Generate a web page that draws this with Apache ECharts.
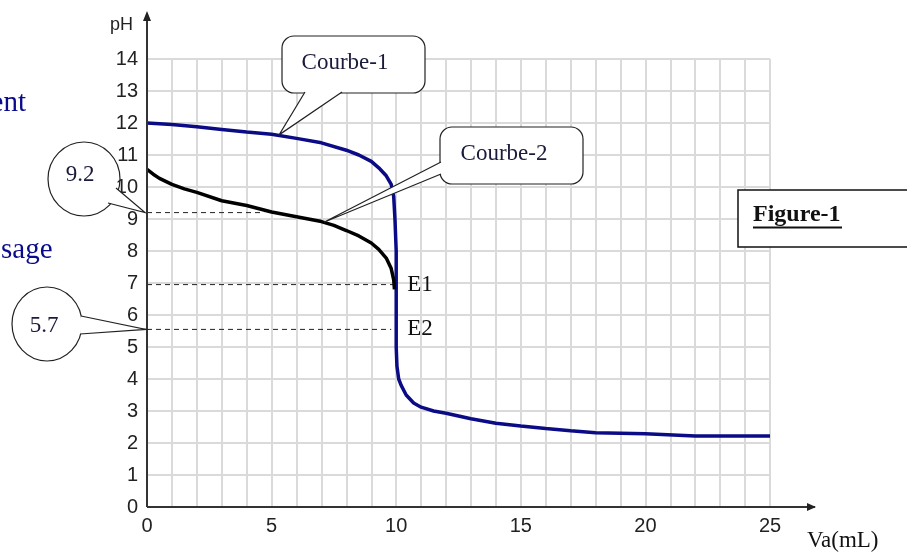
<!DOCTYPE html>
<html>
<head>
<meta charset="utf-8">
<script src="https://cdn.jsdelivr.net/npm/echarts@6/dist/echarts.min.js"></script>
<style>
  html, body { margin: 0; padding: 0; background: #fff; }
  #main { width: 907px; height: 553px; }
</style>
</head>
<body>
<div id="main"></div>
<script>
// Courbe-1 (blue) : pH vs Va
var vol1 = [0, 1, 2, 3, 4, 5, 6, 7, 8, 8.5, 9, 9.3, 9.6, 9.8, 9.9, 9.95, 10, 10, 10.03, 10.1, 10.2, 10.4, 10.7, 11, 11.5, 12, 13, 14, 15, 16, 17, 18, 20, 22, 25];
var ph1 = [12, 11.95, 11.88, 11.8, 11.72, 11.65, 11.52, 11.38, 11.15, 11.0, 10.8, 10.6, 10.35, 10.08, 9.7, 9.0, 8.0, 5.0, 4.4, 4.0, 3.8, 3.5, 3.25, 3.12, 3.0, 2.93, 2.76, 2.62, 2.53, 2.45, 2.38, 2.32, 2.29, 2.22, 2.22];
// Courbe-2 (black)
var vol2 = [0, 0.25, 0.5, 1, 1.5, 2, 3, 4, 5, 6, 7, 7.5, 8, 8.5, 9, 9.3, 9.6, 9.8, 9.9, 9.93];
var ph2 = [10.55, 10.4, 10.27, 10.08, 9.94, 9.83, 9.57, 9.42, 9.22, 9.07, 8.92, 8.8, 8.64, 8.47, 8.25, 8.05, 7.78, 7.45, 7.1, 6.8];

// dashed reading lines
var dashLevels = [9.2, 6.95, 5.55];
var dashEnds = [4.7, 9.9, 9.8];

// equivalence labels
var eqNames = ['E1', 'E2'];
var eqLevels = [6.95, 5.55];

var xTicks = [0, 5, 10, 15, 20, 25];
var calloutTexts = ['Courbe-1', 'Courbe-2', '9.2', '5.7'];
var calloutTips = [[5.3, 11.63], [7.1, 8.9], [0, 9.2], [0, 5.55]];

function pairs(xs, ys) {
  return xs.map(function (x, i) { return [x, ys[i]]; });
}

var chart = echarts.init(document.getElementById('main'));

var series = [
  {
    type: 'line', data: pairs(vol1, ph1), symbol: 'none', z: 3,
    lineStyle: { color: '#0b0b86', width: 3.5 }
  },
  {
    type: 'line', data: pairs(vol2, ph2), symbol: 'none', z: 4,
    lineStyle: { color: '#000', width: 3.5 }
  }
];
dashLevels.forEach(function (lvl, i) {
  series.push({
    type: 'line', data: [[0, lvl], [dashEnds[i], lvl]], symbol: 'none', z: 2,
    lineStyle: { color: '#222', width: 1, type: [5, 4] }
  });
});

chart.setOption({
  animation: false,
  backgroundColor: '#fff',
  grid: { left: 147, right: 137, top: 59, bottom: 46 },
  xAxis: {
    type: 'value', min: 0, max: 25, interval: 1,
    axisLine: { show: false },
    axisTick: { show: false },
    splitLine: { lineStyle: { color: '#dadada', width: 2 } },
    axisLabel: {
      margin: 9, color: '#222', fontSize: 20, fontFamily: 'Liberation Sans',
      formatter: function (v) { return xTicks.indexOf(v) >= 0 ? String(v) : ''; }
    }
  },
  yAxis: {
    type: 'value', min: 0, max: 14, interval: 1,
    axisLine: { show: false },
    axisTick: { show: false },
    splitLine: { lineStyle: { color: '#dadada', width: 2 } },
    axisLabel: { margin: 9, color: '#222', fontSize: 20, fontFamily: 'Liberation Sans' }
  },
  series: series
});

function px(p) { return chart.convertToPixel({ gridIndex: 0 }, p); }

function txt(text, x, y, opts) {
  opts = opts || {};
  var align = opts.align || 'center';
  return {
    type: 'text', z: 120,
    style: {
      text: text, x: x, y: y,
      fill: opts.color || '#1a1a3a',
      font: opts.font || '23px "Liberation Serif"',
      align: align, verticalAlign: 'middle',
      textAlign: align, textVerticalAlign: 'middle'
    }
  };
}

var o = px([0, 0]);
var g = [];

// axes with arrows
g.push({ type: 'line', z: 110, shape: { x1: o[0], y1: o[1], x2: 815, y2: o[1] }, style: { stroke: '#333', lineWidth: 2 } });
g.push({ type: 'polygon', z: 110, shape: { points: [[807, o[1] - 4], [816, o[1]], [807, o[1] + 4]] }, style: { fill: '#222' } });
g.push({ type: 'line', z: 110, shape: { x1: o[0], y1: o[1], x2: o[0], y2: 13 }, style: { stroke: '#333', lineWidth: 2 } });
g.push({ type: 'polygon', z: 110, shape: { points: [[o[0] - 4, 21], [o[0], 11], [o[0] + 4, 21]] }, style: { fill: '#222' } });
g.push(txt('pH', 110, 25, { align: 'left', color: '#222', font: '18px "Liberation Sans"' }));
g.push(txt('Va(mL)', 807, 541, { align: 'left', color: '#111' }));

// clipped text at left margin
g.push(txt('ent', 26, 103, { align: 'right', color: '#0a0a8c', font: '29px "Liberation Serif"' }));
g.push(txt('sage', 1, 250, { align: 'left', color: '#0a0a8c', font: '29px "Liberation Serif"' }));

// callout boxes with tails
function boxCallout(rect, b1, b2, tip, label, center) {
  g.push({ type: 'rect', z: 112, shape: { x: rect[0], y: rect[1], width: rect[2], height: rect[3], r: 12 },
    style: { fill: '#fff', stroke: '#222', lineWidth: 1.2 } });
  g.push({ type: 'polygon', z: 113, shape: { points: [b1, b2, tip] }, style: { fill: '#fff', stroke: null } });
  g.push({ type: 'polyline', z: 114, shape: { points: [b1, tip, b2] }, style: { stroke: '#222', lineWidth: 1.2, fill: null } });
  g.push(txt(label, center[0], center[1]));
}
function ovalCallout(c, rx, ry, b1, b2, tip, label, center) {
  g.push({ type: 'ellipse', z: 112, shape: { cx: c[0], cy: c[1], rx: rx, ry: ry },
    style: { fill: null, stroke: '#222', lineWidth: 1.2 } });
  g.push({ type: 'polygon', z: 113, shape: { points: [b1, b2, tip] }, style: { fill: '#fff', stroke: null } });
  g.push({ type: 'polyline', z: 114, shape: { points: [b1, tip, b2] }, style: { stroke: '#222', lineWidth: 1.2, fill: null } });
  g.push(txt(label, center[0], center[1]));
}

var t1 = px(calloutTips[0]);
boxCallout([282, 36, 143, 57], [305, 92], [342, 92], t1, calloutTexts[0], [345, 63]);
var t2 = px(calloutTips[1]);
boxCallout([440, 127, 143, 57], [441, 162], [441, 174], t2, calloutTexts[1], [504, 154]);
var t3 = px(calloutTips[2]);
ovalCallout([84, 179], 36, 37, [116, 188], [108, 203], [t3[0] - 2, t3[1]], calloutTexts[2], [80, 175]);
var t4 = px(calloutTips[3]);
ovalCallout([47, 324], 35, 37, [81, 316], [80, 334], [t4[0] - 1, t4[1]], calloutTexts[3], [44, 326]);

// equivalence labels
eqNames.forEach(function (name, i) {
  var p = px([10, eqLevels[i]]);
  g.push(txt(name, p[0] + 11, p[1], { align: 'left', color: '#111' }));
});

// Figure-1 box
g.push({ type: 'rect', z: 112, shape: { x: 738, y: 190, width: 180, height: 57 },
  style: { fill: '#fff', stroke: '#111', lineWidth: 1.5 } });
g.push(txt('Figure-1', 753, 215, { align: 'left', color: '#111', font: 'bold 24px "Liberation Serif"' }));
g.push({ type: 'line', z: 113, shape: { x1: 753, y1: 227.5, x2: 842, y2: 227.5 }, style: { stroke: '#111', lineWidth: 2 } });

chart.setOption({ graphic: g });
</script>
</body>
</html>
